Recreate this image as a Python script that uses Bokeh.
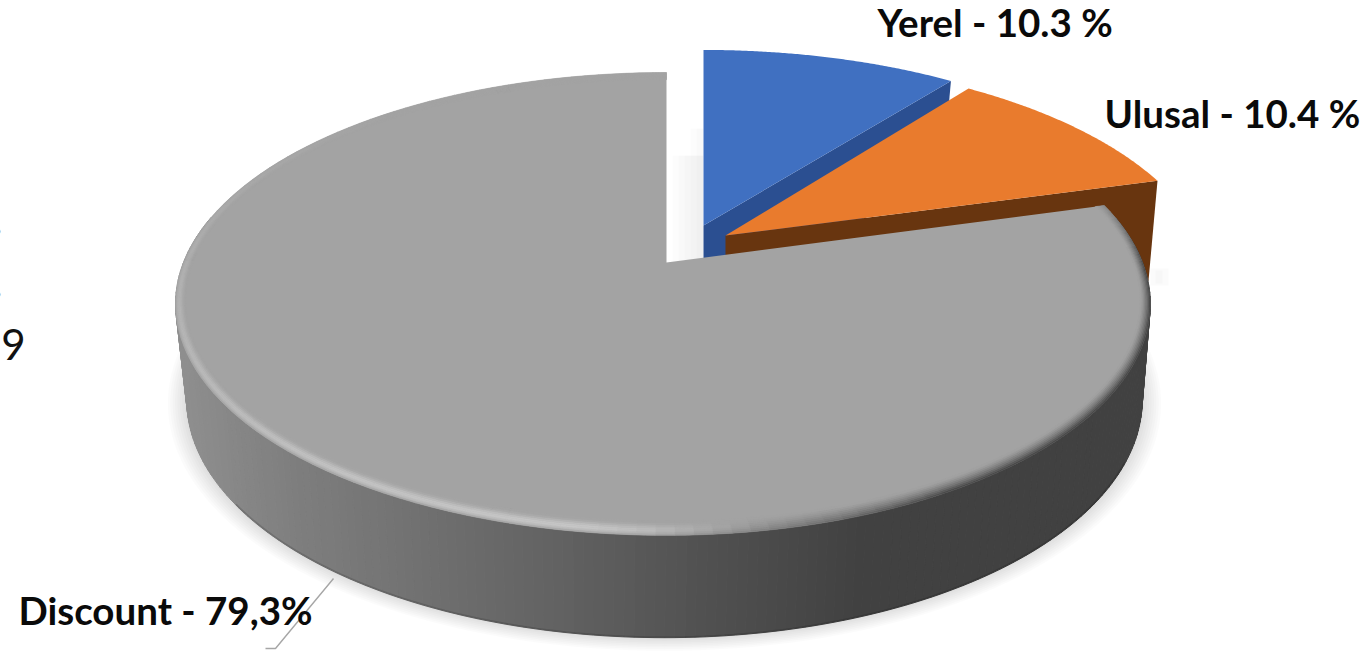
import math
from bokeh.core.properties import value
from bokeh.embed import file_html
from bokeh.models import Range1d
from bokeh.plotting import figure
from bokeh.resources import INLINE

# Market shares, percent
categories = ["Yerel", "Ulusal", "Discount"]
shares = [10.3, 10.4, 79.3]
label_texts = ["Yerel - 10.3 %", "Ulusal - 10.4 %", "Discount - 79,3%"]
top_colors = ["#4070c1", "#e97b2d", "#a3a3a3"]
edge_colors = ["#2b4f91", "#68350f", "#414141"]

# Perspective projection of the disc
TILT = 0.179
TOP_RX_LEFT, TOP_RX_RIGHT, TOP_RY = 483, 476, 224
BASE_RX, BASE_RY = 470, 230
HUB = (666, 262)
BASE_HUB = (664, 357)
# Exploded slices: hub, horizontal radius, vertical radius, tilt
EXPLODED = {"Yerel": ((703, 225), 469, 207, 0.179),
            "Ulusal": ((725, 235), 475, 217, 0.2235)}

W, H = 1371, 651
p = figure(width=W, height=H, output_backend="svg", toolbar_location=None,
           x_range=Range1d(0, W), y_range=Range1d(H, 0), min_border=0)
p.axis.visible = False
p.grid.visible = False
p.outline_line_color = None
p.background_fill_color = "white"
p.border_fill_color = "white"


def project(theta, r=1.0, hub=HUB, rx=None, ry=TOP_RY, tilt=TILT):
    """Clock angle in degrees and disc radius to canvas position."""
    a = math.radians(theta)
    u, v = r * math.sin(a), r * math.cos(a)
    w = 1 + tilt * v
    if rx is None:
        rx = TOP_RX_RIGHT if u > 0 else TOP_RX_LEFT
    return hub[0] + rx * u / w, hub[1] - ry * v / w


def base(theta, r=1.0):
    return project(theta, r, BASE_HUB, BASE_RX, BASE_RY)


def arc(t0, t1, r=1.0, hub=HUB, rx=None, ry=TOP_RY, tilt=TILT, n=120):
    pts = [project(t0 + (t1 - t0) * i / n, r, hub, rx, ry, tilt) for i in range(n + 1)]
    return [q[0] for q in pts], [q[1] for q in pts]


def mix(c0, c1, t):
    t = max(0.0, min(1.0, t))
    return c0 + (c1 - c0) * t


def grey(level):
    g = int(round(max(0, min(255, level))))
    return f"#{g:02x}{g:02x}{g:02x}"


def ramp(x, stops):
    if x <= stops[0][0]:
        return stops[0][1]
    for (x0, y0), (x1, y1) in zip(stops, stops[1:]):
        if x <= x1:
            return y0 + (y1 - y0) * (x - x0) / (x1 - x0)
    return stops[-1][1]


# Slice boundaries as clock angles
limits = [0.0]
for s in shares:
    limits.append(limits[-1] + 360.0 * s / sum(shares))

# Soft shadow under the disc
for i in range(8, 0, -1):
    r = 1 + i * 0.0048
    xs, ys = [], []
    for k in range(121):
        x, y = base(75 + 210 * k / 120, r)
        xs.append(x)
        ys.append(y)
    p.patch(xs, ys, fill_color="#000000", fill_alpha=0.016, line_color=None)

# Shadow falling into the gap between the grey and blue slices
gap_left = [672, 678, 684, 690, 696]
gap_top = [155, 155, 155, 128, 128]
p.quad(left=gap_left, right=[703] * 5, top=gap_top, bottom=[261] * 5,
       fill_color="#000000", fill_alpha=0.012, line_color=None)
p.quad(left=[1150, 1155], right=[1168, 1162], top=[268, 270], bottom=[285, 283],
       fill_color="#000000", fill_alpha=0.014, line_color=None)

# Exploded slices, back to front: cut face first, then the top
for i, name in enumerate(categories[:2]):
    hub, rx, ry, tilt = EXPLODED[name]
    t0, t1 = limits[i], limits[i + 1]
    cx, cy = project(t1, 1.0, hub, rx, ry, tilt)
    p.patch([hub[0], cx, cx - 9, hub[0]], [hub[1], cy, cy + 100, hub[1] + 70],
            fill_color=edge_colors[i], line_color=None)
    ax, ay = arc(t0, t1, 1.0, hub, rx, ry, tilt)
    p.patch([hub[0]] + ax, [hub[1]] + ay, fill_color=top_colors[i], line_color=None)

# Outer wall of the grey slice, shaded from left to right
wall_stops = [(180, 143), (300, 126), (560, 98), (700, 82), (860, 65), (1200, 65)]
steps = 200
wxs, wys, wcs = [], [], []
for k in range(steps):
    t0 = 78 + 204 * k / steps
    t1 = 78 + 204 * (k + 1) / steps
    q0, q1, q2, q3 = project(t0), project(t1), base(t1), base(t0)
    wxs.append([q0[0], q1[0], q2[0], q3[0]])
    wys.append([q0[1], q1[1], q2[1], q3[1]])
    wcs.append(grey(ramp((q0[0] + q3[0]) / 2, wall_stops)))
p.patches(wxs, wys, fill_color=wcs, line_color=wcs, line_width=1)

# Darker line along the wall's lower edge
bx, by = [], []
for k in range(121):
    x, y = base(115 + 120 * k / 120, 0.999)
    bx.append(x)
    by.append(y)
p.line(bx, by, line_color="#000000", line_alpha=0.14, line_width=2)

# Top of the grey slice
ax, ay = arc(limits[2], limits[3], n=240)
p.patch([HUB[0]] + ax, [HUB[1]] + ay, fill_color=top_colors[2], line_color=None)


def rim_radius(theta, f):
    """Radius inside the rim; the bevel is wider at the front than at the sides."""
    c = math.cos(math.radians(theta))
    return 1 - f * (0.02 + 0.024 * c * c)


# Bevel on the rim: bright on the front left, falling to dark on the front right
BASE_GREY = 163
ring_count = 8
seg_count = 150
rxs, rys, rcs = [], [], []
for ring in range(ring_count):
    f0 = ring / ring_count
    f1 = (ring + 1) / ring_count
    t = (ring + 0.5) / ring_count
    for k in range(seg_count):
        t0 = limits[2] + (360 - limits[2]) * k / seg_count
        t1 = limits[2] + (360 - limits[2]) * (k + 1) / seg_count
        mid = (t0 + t1) / 2
        bright = ramp(mid, [(168, 0), (188, 0.9), (215, 0.8), (250, 0.5), (285, 0.2), (320, 0.0)])
        dark = ramp(mid, [(76, 0.3), (92, 1), (150, 1), (182, 0), (360, 0)])
        level = BASE_GREY + 40 * bright * math.sin(math.pi * t ** 0.7) ** 2
        level = mix(level, 66, dark * (1 - t) ** 1.4)
        q0 = project(t0, rim_radius(t0, f0))
        q1 = project(t1, rim_radius(t1, f0))
        q2 = project(t1, rim_radius(t1, f1))
        q3 = project(t0, rim_radius(t0, f1))
        rxs.append([q0[0], q1[0], q2[0], q3[0]])
        rys.append([q0[1], q1[1], q2[1], q3[1]])
        rcs.append(grey(level))
p.patches(rxs, rys, fill_color=rcs, line_color=rcs, line_width=0.6)

# Leader line of the Discount label
leader_x = [333, 275, 265]
leader_y = [578, 648, 648]
p.line(leader_x, leader_y, line_color="#a6a6a6", line_width=1.4)

# Slice labels
label_x = [877, 1104, 18]
label_y = [21, 112, 609]
p.text(label_x, label_y, text=label_texts, text_font=value("Lato"),
       text_font_style="bold", text_font_size="38.5px", text_color="#0a0a0a",
       text_align="left", text_baseline="middle")

# Text running in from the left edge of the slide
p.text([25], [344], text=["39"], text_font=value("Lato"), text_font_size="42px",
       text_color="#111111", text_align="right", text_baseline="middle")
p.text([2, 2], [219, 282], text=[".", "."], text_font=value("Lato"), text_font_size="38px",
       text_color="#333333", text_align="right", text_baseline="middle")

open("out.html", "w").write(file_html(p, INLINE))
